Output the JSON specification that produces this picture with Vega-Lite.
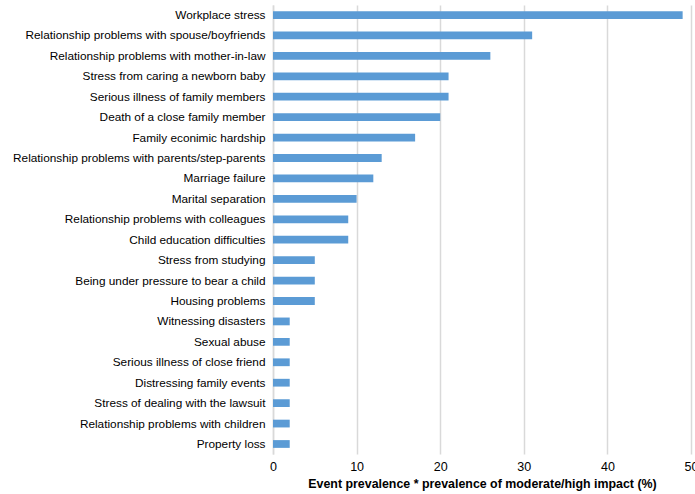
{
  "$schema": "https://vega.github.io/schema/vega-lite/v6.json",
  "autosize": {"type": "none"},
  "width": 418,
  "height": 449,
  "padding": {"left": 273, "top": 5, "right": 4, "bottom": 40},
  "background": "white",
  "data": {
    "values": [
      {"event": "Workplace stress", "value": 49},
      {"event": "Relationship problems with spouse/boyfriends", "value": 31},
      {"event": "Relationship problems with mother-in-law", "value": 26},
      {"event": "Stress from caring a newborn baby", "value": 21},
      {"event": "Serious illness of family members", "value": 21},
      {"event": "Death of a close family member", "value": 20},
      {"event": "Family econimic hardship", "value": 17},
      {"event": "Relationship problems with parents/step-parents", "value": 13},
      {"event": "Marriage failure", "value": 12},
      {"event": "Marital separation", "value": 10},
      {"event": "Relationship problems with colleagues", "value": 9},
      {"event": "Child education difficulties", "value": 9},
      {"event": "Stress from studying", "value": 5},
      {"event": "Being under pressure to bear a child", "value": 5},
      {"event": "Housing problems", "value": 5},
      {"event": "Witnessing disasters", "value": 2},
      {"event": "Sexual abuse", "value": 2},
      {"event": "Serious illness of close friend", "value": 2},
      {"event": "Distressing family events", "value": 2},
      {"event": "Stress of dealing with the lawsuit", "value": 2},
      {"event": "Relationship problems with children", "value": 2},
      {"event": "Property loss", "value": 2}
    ]
  },
  "mark": {"type": "bar", "color": "#5B9BD5"},
  "encoding": {
    "y": {
      "field": "event",
      "type": "nominal",
      "sort": null,
      "scale": {"paddingInner": 0.62, "paddingOuter": 0.3},
      "axis": {
        "title": null,
        "ticks": false,
        "domainColor": "#d9d9d9",
        "domainWidth": 1.5,
        "labelPadding": 8,
        "labelFontSize": 11.8,
        "labelColor": "#000000",
        "labelLimit": 300
      }
    },
    "x": {
      "field": "value",
      "type": "quantitative",
      "scale": {"domain": [0, 50]},
      "axis": {
        "title": "Event prevalence * prevalence of moderate/high impact (%)",
        "values": [0, 10, 20, 30, 40, 50],
        "domain": false,
        "ticks": false,
        "grid": true,
        "gridColor": "#d9d9d9",
        "gridWidth": 1.5,
        "labelPadding": 6,
        "labelFontSize": 12.5,
        "labelColor": "#000000",
        "labelFlush": false,
        "titleFontSize": 12.4,
        "titleFontWeight": "bold",
        "titleColor": "#000000",
        "titlePadding": 5
      }
    }
  },
  "config": {
    "font": "Liberation Sans",
    "view": {"stroke": null}
  }
}
